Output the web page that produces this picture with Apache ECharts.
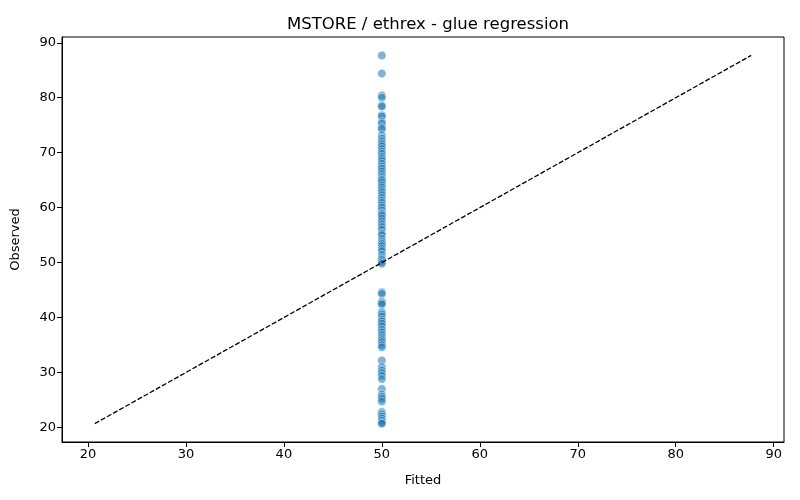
<!DOCTYPE html>
<html>
<head>
<meta charset="utf-8">
<title>MSTORE / ethrex - glue regression</title>
<script src="https://cdn.jsdelivr.net/npm/echarts@6/dist/echarts.min.js"></script>
<style>
  html, body { margin: 0; padding: 0; background: #fff; }
  #chart { width: 800px; height: 500px; }
</style>
</head>
<body>
<div id="chart"></div>
<script>
'use strict';

// fitted value is the same for every observation
var fittedValue = 50;
var observed = [
    87.7, 84.4, 80.4, 80.0, 78.6, 78.4, 76.8, 76.6, 75.6, 75.3, 74.6, 74.3,
    73.2, 72.6, 72.1, 71.6, 71.2, 70.7, 70.2, 69.8, 69.3, 68.9, 68.5, 68.0,
    67.5, 67.1, 66.6, 66.1, 65.6, 65.2, 65.0, 64.6, 64.1, 63.7, 63.2, 62.8,
    62.3, 61.8, 61.3, 60.9, 60.4, 60.0, 59.5, 59.0, 58.8, 58.5, 58.0, 57.5,
    57.0, 56.5, 56.0, 55.3, 55.0, 54.3, 53.8, 53.4, 53.0, 52.5, 52.1, 51.4,
    50.8, 50.5, 50.1, 49.8,
    44.6, 44.3, 42.9, 42.6, 42.4, 41.0, 40.6, 40.2, 39.6, 39.3, 38.9, 38.4,
    37.8, 37.3, 36.8, 36.3, 35.9, 35.5, 35.0, 34.6, 32.2, 31.0, 30.4, 29.9,
    29.4, 28.8, 27.0, 26.0, 25.6, 25.2, 24.7, 22.8, 22.4, 22.0, 21.6, 21.2,
    20.8, 20.7
];
var tickValues = [20, 30, 40, 50, 60, 70, 80, 90];
var axisMin = 17.35;
var axisMax = 91.05;
var refLine = [[20.7, 20.7], [87.7, 87.7]];

var points = observed.map(function(v) { return [fittedValue, v]; });

var font = 'DejaVu Sans';

function makeAxis(name, gap) {
    return {
        type: 'value',
        min: axisMin,
        max: axisMax,
        name: name,
        nameLocation: 'middle',
        nameGap: gap,
        nameTextStyle: { fontFamily: font, fontSize: 13, color: '#000' },
        axisLine: { show: true, lineStyle: { color: '#000', width: 1 } },
        axisTick: { show: true, length: 5, customValues: tickValues, lineStyle: { color: '#000' } },
        axisLabel: { customValues: tickValues, fontFamily: font, fontSize: 13, color: '#000', margin: 6 },
        splitLine: { show: false }
    };
}

var chart = echarts.init(document.getElementById('chart'));
var option = {
    animation: false,
    backgroundColor: '#fff',
    title: {
        text: 'MSTORE / ethrex - glue regression',
        left: 423,
        top: 11,
        textAlign: 'center',
        textStyle: { fontFamily: font, fontSize: 16.5, fontWeight: 'normal', color: '#000' }
    },
    grid: {
        left: 62, right: 16, top: 37, bottom: 58,
        show: true, borderColor: '#000', borderWidth: 1
    },
    xAxis: makeAxis('Fitted', 32),
    yAxis: makeAxis('Observed', 40),
    series: [{
        type: 'scatter',
        data: points,
        symbolSize: 8.5,
        itemStyle: { color: 'rgba(31,119,180,0.7)', borderColor: '#fff', borderWidth: 0.6 }
    }, {
        type: 'line',
        data: refLine,
        symbol: 'none',
        lineStyle: { color: '#000', width: 1.3, type: [5, 2] }
    }]
};
chart.setOption(option);
</script>
</body>
</html>
